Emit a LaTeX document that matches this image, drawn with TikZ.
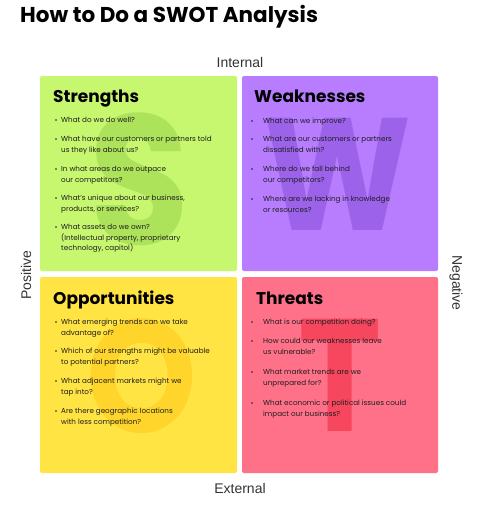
\documentclass[tikz,border=0pt]{standalone}
\usepackage{fontspec}
\setmainfont{Poppins}
\newfontfamily\axisfont{Liberation Sans}
\definecolor{sgreen}{HTML}{C7F66F}
\definecolor{sgreenl}{HTML}{ADE35B}
\definecolor{wpurple}{HTML}{B77DFE}
\definecolor{wpurplel}{HTML}{9C62EA}
\definecolor{oyellow}{HTML}{FFE443}
\definecolor{oyellowl}{HTML}{FFD52C}
\definecolor{tpink}{HTML}{FF7189}
\definecolor{tpinkl}{HTML}{F6475F}
\definecolor{ink}{HTML}{1E1E1E}
\definecolor{axisgray}{HTML}{333333}
\tikzset{
	quad/.style={rounded corners=2pt},
	bigletter/.style={font=\fontsize{160}{160}\selectfont\bfseries, inner sep=0, xscale=.88},
	heading/.style={anchor=base west, inner sep=0, font=\fontsize{17}{17}\selectfont\bfseries},
	qitem/.style={anchor=base west, inner sep=0, align=left, font=\fontsize{7.2}{10.5}\selectfont, text=ink},
	axislabel/.style={font=\axisfont\fontsize{14}{14}\selectfont, text=axisgray, inner sep=0}
}
\begin{document}
\begin{tikzpicture}[x=1pt, y=-1pt]
		\useasboundingbox[fill=white] (0,0) rectangle (480,512);
		\node[anchor=base west, inner sep=0, font=\fontsize{21.5}{21.5}\selectfont\bfseries] (title) at (20,22) {How to Do a SWOT Analysis};
		% quadrants
		\fill[sgreen, quad] (40,76) rectangle (237,271);
		\fill[wpurple, quad] (242,76) rectangle (438,271);
		\fill[oyellow, quad] (40,277) rectangle (237,473);
		\fill[tpink, quad] (242,277) rectangle (438,473);
		\node[bigletter, text=sgreenl, font=\fontsize{185}{185}\selectfont\bfseries] (bigS) at (140,179) {S};
		\node[bigletter, text=wpurplel] (bigW) at (338,174) {W};
		\node[bigletter, text=oyellowl] (bigO) at (142,376) {O};
		\node[bigletter, text=tpinkl] (bigT) at (340,375) {T};
		\node[heading] (strengths) at (53,102) {Strengths};
		\node[heading] (weaknesses) at (254,102) {Weaknesses};
		\node[heading] (opportunities) at (53,304) {Opportunities};
		\node[heading] (threats) at (256,304) {Threats};
		% bullet lists (base anchor sits on the last line)
		\foreach \y/\n/\txt [count = \i] in {122.5/1/{What do we do well?},
				141.5/2/{What have our customers or partners told\\us they like about us?},
				171.5/2/{In what areas do we outpace\\our competitors?},
				200.5/2/{What’s unique about our business,\\products, or services?},
				229.5/3/{What assets do we own?\\(Intellectual property, proprietary\\technology, capitol)}}{
				\fill[ink] (56,\y-2.5) circle (.9);
				\node[qitem] (s\i) at (61,\y+\n*10.5-10.5) {\txt};
			}
		\foreach \y/\n/\txt [count = \i] in {123.5/1/{What can we improve?},
				141.5/2/{What are our customers or partners\\dissatisfied with?},
				171.5/2/{Where do we fall behind\\our competitors?},
				201.5/2/{Where are we lacking in knowledge\\or resources?}}{
				\fill[ink] (252,\y-2.5) circle (.9);
				\node[qitem] (w\i) at (263,\y+\n*10.5-10.5) {\txt};
			}
		\foreach \y/\n/\txt [count = \i] in {324.5/2/{What emerging trends can we take\\advantage of?},
				353.5/2/{Which of our strengths might be valuable\\to potential partners?},
				383.5/2/{What adjacent markets might we\\tap into?},
				413.5/2/{Are there geographic locations\\with less competition?}}{
				\fill[ink] (56,\y-2.5) circle (.9);
				\node[qitem] (o\i) at (61,\y+\n*10.5-10.5) {\txt};
			}
		\foreach \y/\n/\txt [count = \i] in {324.5/1/{What is our competition doing?},
				343.5/2/{How could our weaknesses leave\\us vulnerable?},
				374.5/2/{What market trends are we\\unprepared for?},
				405.5/2/{What economic or political issues could\\impact our business?}}{
				\fill[ink] (252,\y-2.5) circle (.9);
				\node[qitem] (t\i) at (263,\y+\n*10.5-10.5) {\txt};
			}
		% axis labels
		\node[axislabel] (internal) at (240,62) {Internal};
		\node[axislabel] (external) at (240,488) {External};
		\node[axislabel, rotate=90] (positive) at (26,275) {Positive};
		\node[axislabel, rotate=-90] (negative) at (456,283) {Negative};
	\end{tikzpicture}
\end{document}
